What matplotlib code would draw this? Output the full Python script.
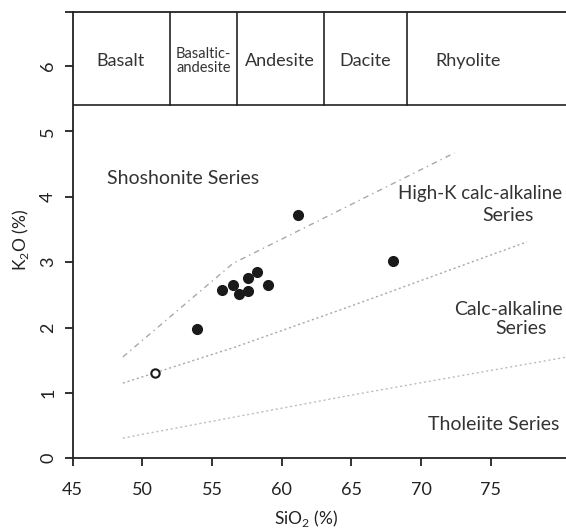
import matplotlib
matplotlib.use("Agg")
import matplotlib.pyplot as plt

plt.rcParams['font.family'] = ['Lato', 'DejaVu Sans']
plt.rcParams['mathtext.fontset'] = 'custom'
plt.rcParams['mathtext.rm'] = 'Lato'

# Data points (SiO2, K2O)
sio2_filled = [53.9, 55.7, 56.5, 56.95, 57.6, 57.6, 58.2, 59.0, 61.2, 68.0]
k2o_filled = [1.97, 2.57, 2.65, 2.52, 2.76, 2.56, 2.85, 2.65, 3.72, 3.02]
sio2_open = [50.9]
k2o_open = [1.30]

# Series boundary lines
sho_x = [48.6, 56.5, 72.4]
sho_y = [1.55, 2.98, 4.67]
hk_x = [48.6, 56.65, 65.0, 77.6]
hk_y = [1.15, 1.70, 2.33, 3.31]
th_x = [48.6, 65.6, 80.5]
th_y = [0.31, 0.99, 1.55]

# Rock-name box
rock_bounds = [52, 56.8, 63, 69]
rock_names = ["Basalt", "Basaltic-\nandesite", "Andesite", "Dacite", "Rhyolite"]
rock_x = [48.4, 54.4, 59.9, 66.0, 73.4]
box_bottom = 5.4
ytop = 6.82

xticks = [45, 50, 55, 60, 65, 70, 75]
yticks = [0, 1, 2, 3, 4, 5, 6]

fig = plt.figure(figsize=(5.66, 5.28), dpi=100)
ax = fig.add_axes([72.7/566, 0.132, 1 - 72.7/566, 0.9767 - 0.132])
ax.set_xlim(45, 80.4)
ax.set_ylim(0, ytop)

lc = '#a8a8a8'
ax.plot(sho_x, sho_y, color=lc, lw=1.0, linestyle=(0, (4, 3, 1, 3)))
ax.plot(hk_x, hk_y, color=lc, lw=1.0, linestyle=(0, (1.5, 2)))
ax.plot(th_x, th_y, color='#bdbdbd', lw=1.0, linestyle=(0, (1.5, 2)))

ax.plot(sio2_filled, k2o_filled, 'o', color='#1a1a1a', ms=7, mec='#1a1a1a')
ax.plot(sio2_open, k2o_open, 'o', mfc='white', mec='#1a1a1a', ms=6, mew=1.5)

# box
ax.axhline(box_bottom, color='#222222', lw=1.2)
for b in rock_bounds:
    ax.plot([b, b], [box_bottom, ytop], color='#222222', lw=1.2)
for name, x in zip(rock_names, rock_x):
    fs = 10.5 if '\n' in name else 13
    ax.text(x, 6.07, name, ha='center', va='center', fontsize=fs, color='#333333',
            linespacing=1.0)

tc = '#333333'
fs = 14
ax.text(47.45, 4.28, "Shoshonite Series", fontsize=fs, color=tc, ha='left', va='center')
ax.text(68.35, 4.05, "High-K calc-alkaline", fontsize=13.5, color=tc, ha='left', va='center')
ax.text(76.25, 3.72, "Series", fontsize=fs, color=tc, ha='center', va='center')
ax.text(76.25, 2.27, "Calc-alkaline", fontsize=fs, color=tc, ha='center', va='center')
ax.text(77.2, 1.98, "Series", fontsize=fs, color=tc, ha='center', va='center')
ax.text(79.9, 0.51, "Tholeiite Series", fontsize=fs, color=tc, ha='right', va='center')

ax.spines['right'].set_visible(False)
for s in ['left', 'bottom', 'top']:
    ax.spines[s].set_linewidth(1.3)
    ax.spines[s].set_color('#222222')

ax.set_xticks(xticks)
ax.set_xticklabels([str(v) for v in xticks], fontsize=13)
ax.set_yticks(yticks + [ytop])
ax.set_yticklabels([str(v) for v in yticks] + [''], fontsize=13, rotation=90, va='center')
ax.tick_params(axis='both', direction='out', length=6, width=1.3, color='#222222', labelcolor='#222222')
ax.tick_params(axis='x', pad=11)
ax.tick_params(axis='y', pad=6)

ax.set_xlabel("SiO$_2$ (%)", fontsize=12.5, color='#222222')
ax.xaxis.set_label_coords(0.473, -0.112)
ax.set_ylabel("K$_2$O (%)", fontsize=12.5, color='#222222')
ax.yaxis.set_label_coords(-0.085, 0.49)

fig.savefig("out.png", dpi=100)
